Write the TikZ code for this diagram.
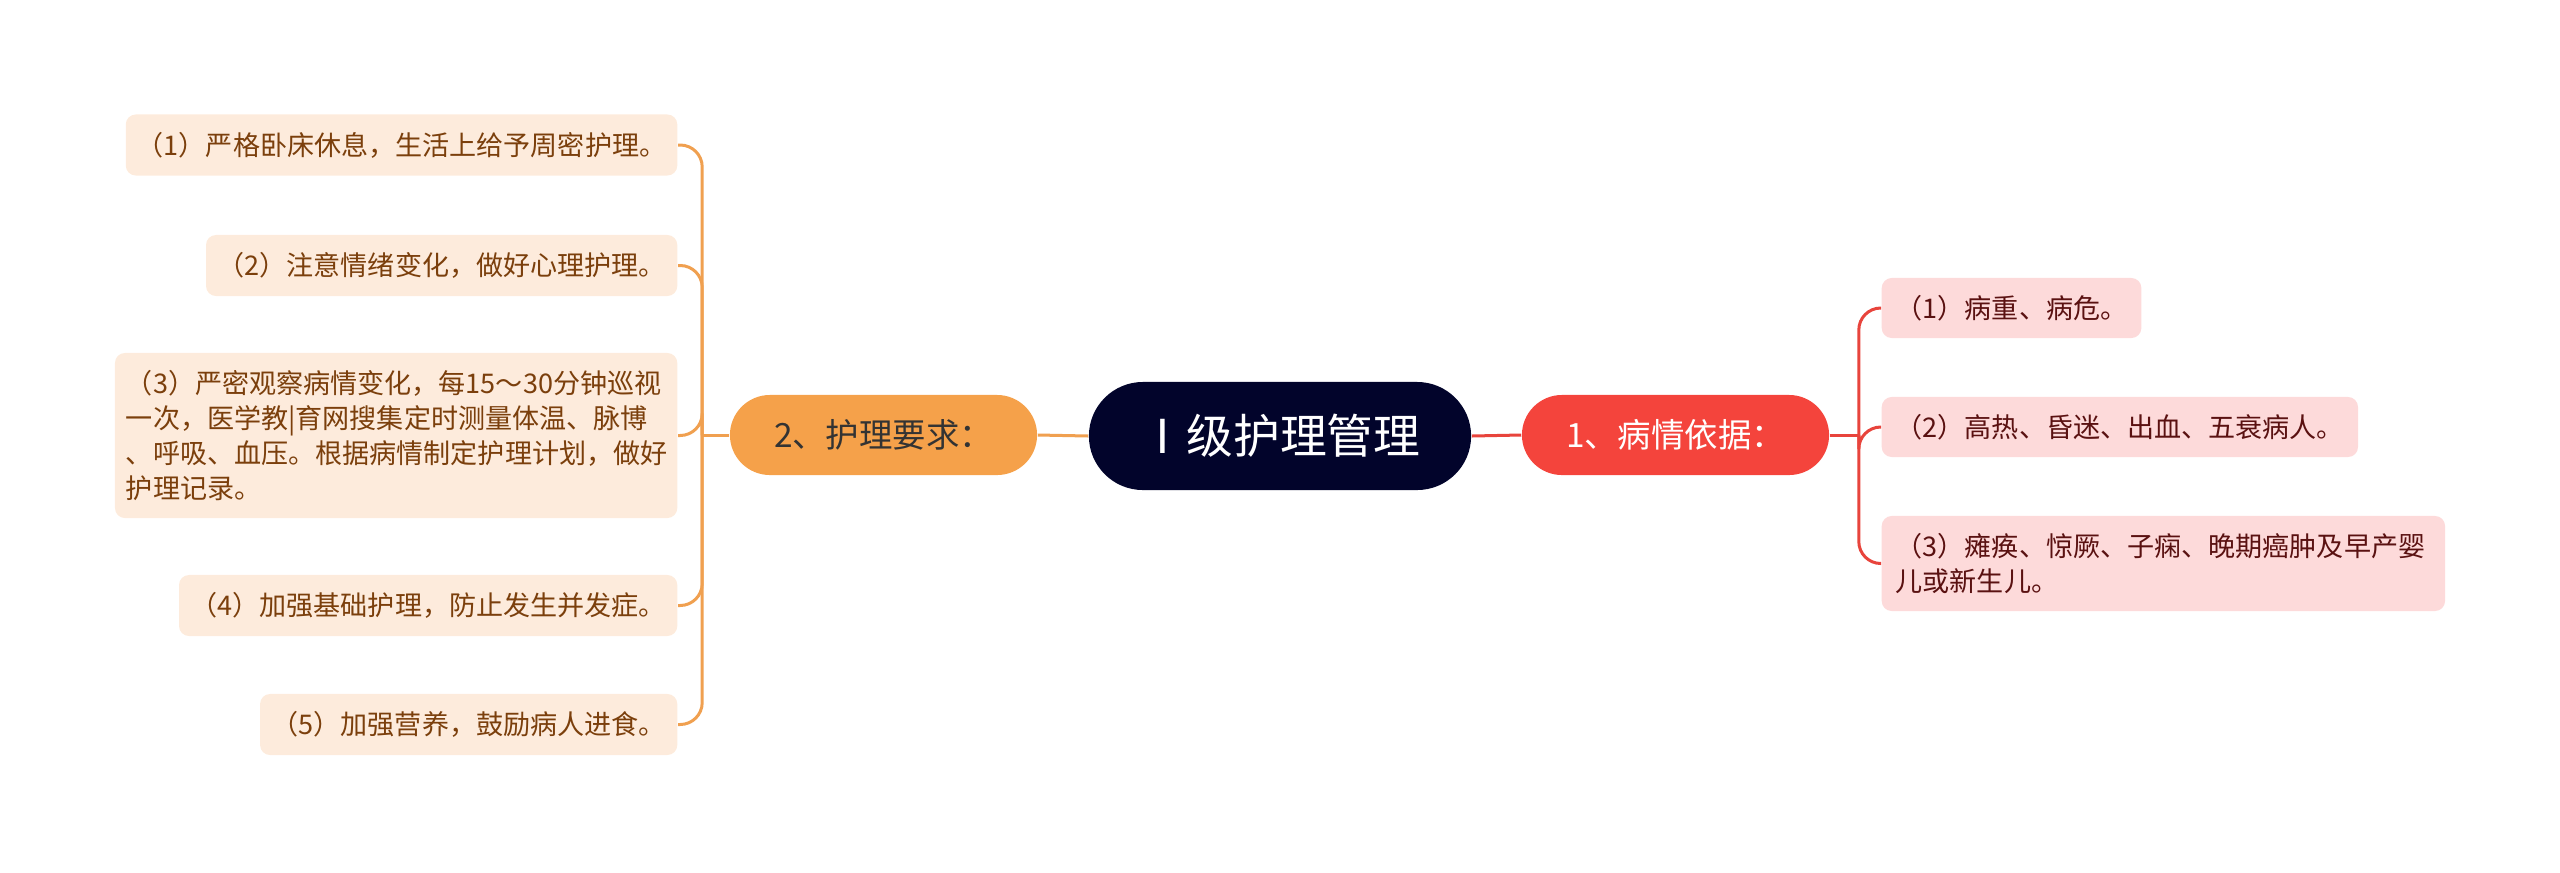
\documentclass[tikz,border=0pt]{standalone}
\usepackage{fontspec}
\newfontfamily\cjk{Noto Sans CJK SC}
\usetikzlibrary{positioning}
\definecolor{navy}{HTML}{02042B}
\definecolor{orangeB}{HTML}{F5A14A}
\definecolor{redB}{HTML}{F4443C}
\definecolor{peach}{HTML}{FDEBDC}
\definecolor{pinkL}{HTML}{FDDADA}
\definecolor{brownT}{HTML}{7B3F0C}
\definecolor{redT}{HTML}{5A1111}
\definecolor{orangeL}{HTML}{F0A050}
\definecolor{redL}{HTML}{E8443C}

\begin{document}
\begin{tikzpicture}[x=0.01cm, y=-0.01cm,
  root/.style={fill=navy, text=white, rounded corners=0.54cm, minimum width=3.82cm, minimum height=1.08cm,
    font=\cjk\fontsize{13.3pt}{16pt}\selectfont},
  topic/.style={rounded corners=0.4cm, minimum width=3.07cm, minimum height=0.8cm,
    font=\cjk\fontsize{9.5pt}{11pt}\selectfont},
  leftleaf/.style={fill=peach, text=brownT, rounded corners=0.1cm, anchor=east, minimum height=0.61cm,
    inner xsep=0.11cm, inner ysep=0.15cm, align=left, font=\cjk\fontsize{7.7pt}{9.96pt}\selectfont},
  rightleaf/.style={fill=pinkL, text=redT, rounded corners=0.1cm, anchor=west, minimum height=0.6cm,
    inner xsep=0.14cm, inner ysep=0.15cm, align=left, font=\cjk\fontsize{7.7pt}{9.96pt}\selectfont},
  oline/.style={draw=orangeL, line width=0.03cm, rounded corners=0.22cm},
  rline/.style={draw=redL, line width=0.03cm, rounded corners=0.22cm}]
\useasboundingbox (0,0) rectangle (2560,872);
\node[root] (root) at (1280,436) {Ⅰ级护理管理};
\node[topic, fill=orangeB, text=black!80] (care) at (883.5,435) {2、护理要求：};
\node[topic, fill=redB, text=white] (basis) at (1675.5,435) {1、病情依据：};

\node[leftleaf, minimum width=5.51cm] (l1) at (678,145) {（1）严格卧床休息，生活上给予周密护理。};
\node[leftleaf, minimum width=4.71cm] (l2) at (678,265.5) {（2）注意情绪变化，做好心理护理。};
\node[leftleaf, text width=5.4cm, minimum height=1.65cm] (l3) at (678,435.5)
  {（3）严密观察病情变化，每15～30分钟巡视\\一次，医学教|育网搜集定时测量体温、脉博\\、呼吸、血压。根据病情制定护理计划，做好\\护理记录。};
\node[leftleaf, minimum width=4.98cm] (l4) at (678,605.5) {（4）加强基础护理，防止发生并发症。};
\node[leftleaf, minimum width=4.17cm] (l5) at (678,724.5) {（5）加强营养，鼓励病人进食。};

\node[rightleaf, minimum width=2.55cm] (r1) at (1881,308) {（1）病重、病危。};
\node[rightleaf, minimum width=4.7cm] (r2) at (1881,427) {（2）高热、昏迷、出血、五衰病人。};
\node[rightleaf, text width=5.35cm, minimum height=0.95cm] (r3) at (1881,563.5)
  {（3）瘫痪、惊厥、子痫、晚期癌肿及早产婴\\儿或新生儿。};

\draw[oline] (root.west) -- (care.east);
\draw[rline] (root.east) -- (basis.west);
\draw[oline] (care.west) -- ++(-27,0) coordinate (cj);
\draw[rline] (basis.east) -- ++(29,0) coordinate (bj);
\foreach \n in {l1,l2,l3,l4,l5}
  \draw[oline] (cj) |- (\n.east);
\foreach \n in {r1,r2,r3}
  \draw[rline] (bj) |- (\n.west);
\end{tikzpicture}
\end{document}
